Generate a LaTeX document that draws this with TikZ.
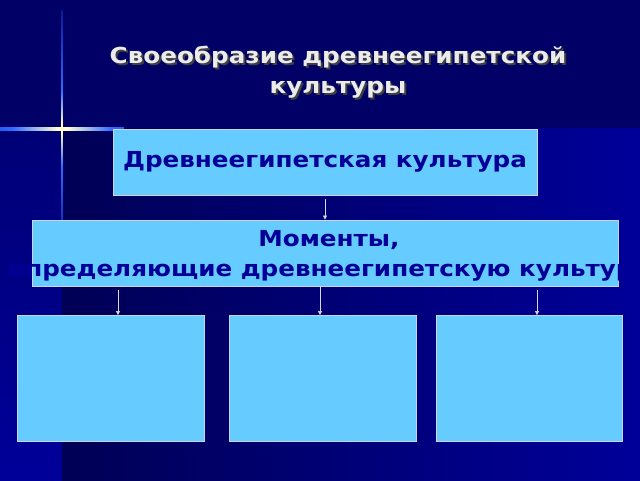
\documentclass[tikz,border=0pt]{standalone}
\usepackage{fontspec}
\setmainfont{DejaVu Sans}
\newfontfamily\slidefont{DejaVu Sans}[FakeStretch=1.12]
\usetikzlibrary{arrows.meta}

\definecolor{bgtop}{HTML}{000066}
\definecolor{bgdeep}{HTML}{000055}
\definecolor{bgbright}{HTML}{000099}
\definecolor{boxfill}{HTML}{66CCFF}
\definecolor{boxline}{HTML}{C8D4F0}
\definecolor{boxtext}{HTML}{000099}
\definecolor{arrowgray}{HTML}{D8D8E8}
\definecolor{flaredim}{HTML}{0A1A9A}
\definecolor{flareblue}{HTML}{2F6BFF}
\definecolor{flarecore}{HTML}{FFFFD0}

\pgfdeclarehorizontalshading{flareh}{100bp}{color(0bp)=(flaredim); color(30bp)=(flareblue); color(48bp)=(flarecore); color(52bp)=(flarecore); color(70bp)=(flareblue); color(100bp)=(flaredim)}
\pgfdeclareverticalshading{flarev}{100bp}{color(0bp)=(bgtop); color(25bp)=(flaredim); color(42bp)=(flareblue); color(49bp)=(flarecore); color(51bp)=(flarecore); color(58bp)=(flareblue); color(75bp)=(flaredim); color(100bp)=(bgtop)}

\tikzset{
  panel/.style={draw=boxline, line width=0.8pt, fill=boxfill, inner sep=0pt},
  paneltext/.style={text=boxtext, font=\slidefont\fontsize{22}{30}\selectfont\bfseries, align=center},
  titletext/.style={font=\slidefont\fontsize{22}{30}\selectfont\bfseries, align=center},
  conn/.style={draw=arrowgray, line width=0.6pt, -{Triangle[length=4pt, width=4pt]}}
}

\begin{document}
\begin{tikzpicture}[x=1pt, y=-1pt]
  \useasboundingbox (0,0) rectangle (640,480);
  % background
  \fill[bgtop] (0,0) rectangle (640,128);
  \fill[top color=bgtop!70!bgbright, bottom color=bgbright] (0,128) rectangle (62,480);
  \fill[left color=bgdeep, right color=bgbright] (62,128) rectangle (640,480);
  % flare
  \shade[shading=flareh] (0,127.8) rectangle (124,130.2);
  \shade[shading=flarev] (61.3,10) rectangle (62.7,246);

  % title with shadow
  \node[titletext, text=black!75] (ttlshadow) at (340,74) {Своеобразие древнеегипетской\\культуры};
  \node[titletext, text=white!92!black] (ttl) at (338,72) {Своеобразие древнеегипетской\\культуры};

  % boxes
  \begin{scope}[every node/.style={panel}]
    \node[minimum width=424pt, minimum height=66pt] (culture) at (325,162) {};
    \node[minimum width=586pt, minimum height=66pt] (moments) at (325,253) {};
    \node[minimum width=187pt, minimum height=126pt] (boxA) at (110.5,378.5) {};
    \node[minimum width=187pt, minimum height=126pt] (boxB) at (322.5,378.5) {};
    \node[minimum width=186pt, minimum height=126pt] (boxC) at (529,378.5) {};
  \end{scope}
  \node[paneltext] (culturetext) at (culture) {Древнеегипетская культура};
  \begin{scope}
    \clip (0,200) rectangle (618,300);
    \node[paneltext] (momentstext) at (329,256) {Моменты,\\определяющие древнеегипетскую культуру};
  \end{scope}

  % connectors
  \coordinate (c0) at (325,199);
  \coordinate (m1) at (118,290);
  \coordinate (m2) at (320,286);
  \coordinate (m3) at (537,290);
  \draw[conn] (c0) -- (c0 |- moments.north);
  \draw[conn] (m1) -- (m1 |- boxA.north);
  \draw[conn] (m2) -- (m2 |- boxB.north);
  \draw[conn] (m3) -- (m3 |- boxC.north);
\end{tikzpicture}
\end{document}
